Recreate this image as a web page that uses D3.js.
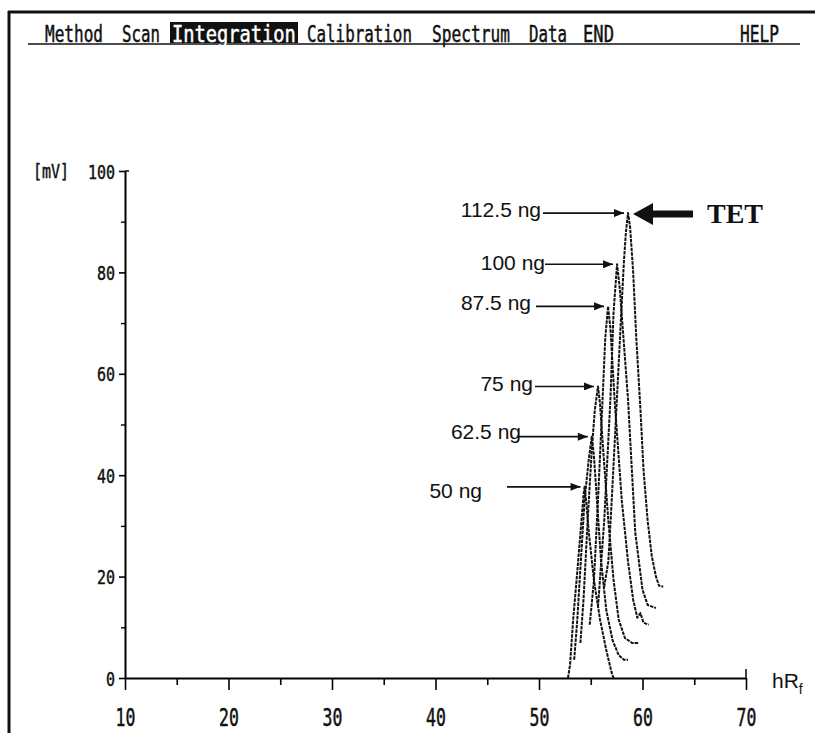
<!DOCTYPE html>
<html>
<head>
<meta charset="utf-8">
<script src="https://cdn.jsdelivr.net/npm/d3@7"></script>
<style>
  body { margin: 0; background: #fff; }
  svg { display: block; }
</style>
</head>
<body>
<div id="chart"></div>
<script>
// densitogram data: [hRf, mV]
var amounts = ["50 ng", "62.5 ng", "75 ng", "87.5 ng", "100 ng", "112.5 ng"];

var s50 = [[52.8,0],[53.0,2.6],[53.3,11.5],[53.7,21],[54.1,31],[54.3,36],[54.4,37.7],[54.6,34],[54.8,29],
           [55.3,19.4],[55.9,11.5],[56.5,5.5],[57.0,1.2],[57.2,0]];
var s62 = [[53.4,3.6],[53.7,11.5],[54.1,25],[54.4,35],[54.8,43],[55.1,47.6],[55.3,44],[55.6,35],[56.0,23],
           [56.5,13.4],[57.1,7.5],[57.7,4.5],[58.2,3.6],[58.6,3.6]];
var s75 = [[54.0,6.9],[54.3,15.4],[54.7,31],[55.1,45],[55.4,53],[55.7,57.5],[55.9,54],[56.2,45],[56.7,31],
           [57.2,19.4],[57.7,11.5],[58.3,7.9],[59.0,6.9],[59.6,6.9]];
var s87 = [[54.9,10.5],[55.3,19],[55.7,35],[56.1,53],[56.4,67],[56.67,73.3],[56.9,69],[57.3,55],[58.0,35],
           [58.6,23],[59.1,15.4],[59.5,11.9],[59.8,12.8],[60.1,10.9],[60.6,10.5]];
var s100 = [[55.7,14],[56.3,31],[56.9,55],[57.2,72],[57.54,81.6],[57.8,77],[58.6,55],[59.3,28.7],
            [60.0,17.4],[60.5,14.4],[61.3,13.8]];
var s112 = [[56.3,18],[56.7,23],[57.0,34],[57.4,50],[57.8,66],[58.2,82],[58.4,88],[58.6,91.7],[58.8,89],
            [59.1,80],[59.4,67],[59.8,53],[60.1,41],[60.5,31],[60.9,24],[61.3,20],[61.6,18.2],[62.0,18]];
var seriesList = [s50, s62, s75, s87, s100, s112];

var xMajor = [10, 20, 30, 40, 50, 60, 70];
var xMinor = [15, 25, 35, 45, 55, 65];
var yMajor = [0, 20, 40, 60, 80, 100];
var yMinor = [10, 30, 50, 70, 90];

var menuItems = ["Method", "Scan", "Integration", "Calibration", "Spectrum", "Data", "END", "HELP"];

// layout only
var menuX = [45, 122, 172, 307, 432, 529, 583, 740];
var menuW = [58, 38, 124, 105, 78, 38, 31, 39];
var labelEnd = [482, 521, 533, 531, 545, 541];
var labelBase = [498, 439, 391, 310, 270, 217];
var arrowStart = [507, 517, 535, 536, 545, 543];

function init(){
    var w = 815, h = 733;
    var mono = "'DejaVu Sans Mono', 'Liberation Mono', monospace";
    var menuFs = 16;

    var svg = d3.select("#chart").append("svg")
        .attr("width", w).attr("height", h);

    svg.append("rect").attr("width", w).attr("height", h).attr("fill", "#fff");

    // screen frame
    svg.append("line").attr("x1", 8).attr("x2", 815).attr("y1", 12).attr("y2", 12)
        .attr("stroke", "#111").attr("stroke-width", 3);
    svg.append("line").attr("x1", 9).attr("x2", 9).attr("y1", 11).attr("y2", 733)
        .attr("stroke", "#111").attr("stroke-width", 3);

    // menu bar (tall narrow screen font: small mono font stretched to fit)
    svg.append("line").attr("x1", 28).attr("x2", 800).attr("y1", 44).attr("y2", 44)
        .attr("stroke", "#111").attr("stroke-width", 1.5);
    svg.append("rect").attr("x", 170).attr("y", 22).attr("width", 128).attr("height", 21)
        .attr("fill", "#111");
    svg.selectAll("text.menu")
        .data(menuItems)
        .enter()
        .append("text")
        .attr("class", "menu")
        .attr("transform", function(d, i){
            var sx = menuW[i] / (d.length * 0.602 * menuFs);
            return "translate(" + menuX[i] + ",42) scale(" + sx.toFixed(3) + ",1.4)";
        })
        .attr("font-family", mono)
        .attr("font-size", menuFs)
        .attr("fill", function(d){ return d == "Integration" ? "#fff" : "#111"; })
        .attr("stroke", function(d){ return d == "Integration" ? "#fff" : "#111"; })
        .attr("stroke-width", 0.35)
        .text(function(d){ return d; });

    var x = d3.scaleLinear().domain([10, 70]).range([125, 746]);
    var y = d3.scaleLinear().domain([0, 100]).range([678, 171]);

    // x axis
    var gx = svg.append("g").attr("transform", "translate(0," + y(0) + ")");
    gx.call(d3.axisBottom(x).tickValues(xMajor).tickSize(12).tickSizeOuter(0).tickFormat(d3.format("d")));
    gx.select(".domain").attr("stroke-width", 2);
    gx.selectAll(".tick line").attr("stroke-width", 1.6);
    gx.selectAll(".tick text")
        .attr("y", 0).attr("dy", null)
        .attr("transform", "translate(0,48) scale(1,1.45)")
        .attr("font-family", mono).attr("font-size", 16.5)
        .attr("fill", "#111").attr("stroke", "#111").attr("stroke-width", 0.35);

    var gxm = svg.append("g").attr("transform", "translate(0," + y(0) + ")");
    gxm.call(d3.axisBottom(x).tickValues(xMinor).tickSize(7).tickFormat(""));
    gxm.select(".domain").remove();
    gxm.selectAll(".tick line").attr("stroke-width", 1.6);

    svg.append("line")
        .attr("x1", x(70)).attr("x2", x(70))
        .attr("y1", y(0)).attr("y2", y(0) - 9)
        .attr("stroke", "#111").attr("stroke-width", 1.6);

    // y axis
    var gy = svg.append("g").attr("transform", "translate(" + x(10) + ",0)");
    gy.call(d3.axisLeft(y).tickValues(yMajor).tickSize(6).tickPadding(4).tickSizeOuter(0));
    gy.select(".domain").attr("stroke-width", 2);
    gy.selectAll(".tick line").attr("stroke-width", 1.6);
    gy.selectAll(".tick text")
        .attr("x", 0).attr("dy", null)
        .attr("transform", "translate(-10,7) scale(1,1.35)")
        .attr("font-family", mono).attr("font-size", 15)
        .attr("fill", "#111").attr("stroke", "#111").attr("stroke-width", 0.35);

    var gym = svg.append("g").attr("transform", "translate(" + x(10) + ",0)");
    gym.call(d3.axisLeft(y).tickValues(yMinor).tickSize(4).tickFormat(""));
    gym.select(".domain").remove();
    gym.selectAll(".tick line").attr("stroke-width", 1.4);

    svg.append("line")
        .attr("x1", x(10)).attr("x2", x(10) + 4)
        .attr("y1", y(100)).attr("y2", y(100))
        .attr("stroke", "#111").attr("stroke-width", 1.6);

    svg.append("text")
        .attr("transform", "translate(33," + (y(100) + 7) + ") scale(1,1.35)")
        .attr("font-family", mono).attr("font-size", 15)
        .attr("fill", "#111").attr("stroke", "#111").attr("stroke-width", 0.35)
        .text("[mV]");

    var hr = svg.append("text")
        .attr("x", 772).attr("y", 688)
        .attr("font-family", "'Liberation Sans', Arial, sans-serif")
        .attr("font-size", 21).attr("fill", "#111");
    hr.append("tspan").text("hR");
    hr.append("tspan").attr("font-size", 14).attr("dy", 6).text("f");

    // curves
    var line = d3.line()
        .x(function(d){ return x(d[0]); })
        .y(function(d){ return y(d[1]); });

    svg.selectAll("path.peak")
        .data(seriesList)
        .enter()
        .append("path")
        .attr("class", "peak")
        .attr("d", line)
        .attr("fill", "none")
        .attr("stroke", "#111")
        .attr("stroke-width", 2)
        .attr("stroke-dasharray", "3.5,1")
        .attr("stroke-linejoin", "round");

    // annotations
    svg.append("defs").append("marker")
        .attr("id", "head")
        .attr("markerUnits", "userSpaceOnUse")
        .attr("viewBox", "0 0 10 8")
        .attr("refX", 10).attr("refY", 4)
        .attr("markerWidth", 11).attr("markerHeight", 8)
        .attr("orient", "auto")
        .append("path")
        .attr("d", "M0,0L10,4L0,8Z")
        .attr("fill", "#111");

    var peaks = seriesList.map(function(s){
        return d3.greatest(s, function(d){ return d[1]; });
    });

    svg.selectAll("line.arrow")
        .data(peaks)
        .enter()
        .append("line")
        .attr("class", "arrow")
        .attr("x1", function(d, i){ return arrowStart[i]; })
        .attr("x2", function(d){ return x(d[0]) - 4; })
        .attr("y1", function(d){ return y(d[1]); })
        .attr("y2", function(d){ return y(d[1]); })
        .attr("stroke", "#111")
        .attr("stroke-width", 1.6)
        .attr("marker-end", "url(#head)");

    svg.selectAll("text.amount")
        .data(amounts)
        .enter()
        .append("text")
        .attr("class", "amount")
        .attr("x", function(d, i){ return labelEnd[i]; })
        .attr("y", function(d, i){ return labelBase[i]; })
        .attr("text-anchor", "end")
        .attr("font-family", "'Liberation Sans', Arial, sans-serif")
        .attr("font-size", 21)
        .attr("fill", "#111")
        .text(function(d){ return d; });

    // TET marker on the top peak
    var top = peaks[peaks.length - 1];
    var tx = x(top[0]) + 5, ty = y(top[1]) + 1;
    svg.append("path")
        .attr("d", "M" + tx + "," + ty +
                   "L" + (tx + 20) + "," + (ty - 11) +
                   "L" + (tx + 20) + "," + (ty - 3.5) +
                   "L" + (tx + 60) + "," + (ty - 3.5) +
                   "L" + (tx + 60) + "," + (ty + 3.5) +
                   "L" + (tx + 20) + "," + (ty + 3.5) +
                   "L" + (tx + 20) + "," + (ty + 11) + "Z")
        .attr("fill", "#111");

    svg.append("text")
        .attr("x", 707).attr("y", 223)
        .attr("font-family", "'Liberation Serif', 'Times New Roman', serif")
        .attr("font-weight", "bold")
        .attr("font-size", 28)
        .attr("fill", "#111")
        .text("TET");
}

window.onload = init;
</script>
</body>
</html>
